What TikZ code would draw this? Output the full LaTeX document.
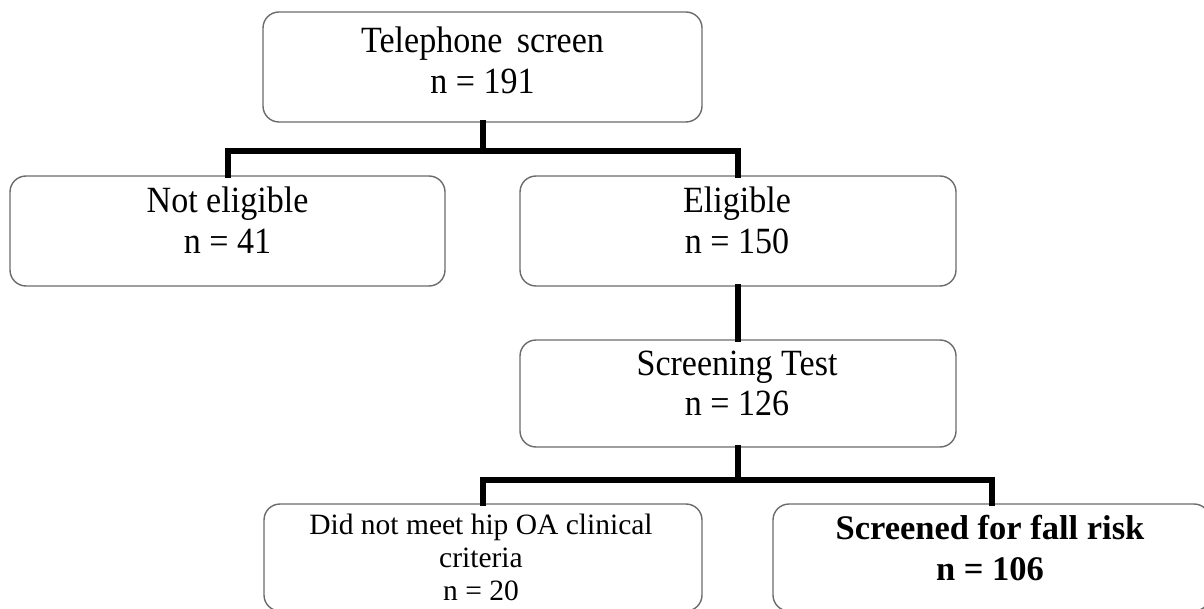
\documentclass[tikz,border=0pt]{standalone}
\usepackage{fontspec}
\setmainfont{Liberation Serif}
\newfontfamily\narrowserif[FakeStretch=0.92]{Liberation Serif}
\begin{document}
\begin{tikzpicture}[x=1pt,y=-1pt,
  box/.style={draw=black!58, line width=1.4pt, rounded corners=16pt, inner sep=0pt, fill=white},
  conn/.style={line width=6pt, line join=miter, line cap=rect},
  txt/.style={inner sep=0pt, anchor=base, font=\narrowserif\fontsize{37}{40}\selectfont},
  smalltxt/.style={inner sep=0pt, anchor=base, font=\fontsize{29.5}{32}\selectfont},
  boldtxt/.style={inner sep=0pt, anchor=base, font=\fontsize{34.5}{38}\selectfont\bfseries}]
\useasboundingbox (0,0) rectangle (1204,609);
\clip (0,0) rectangle (1204,609);
% boxes
\node[box, minimum width=439pt, minimum height=110pt] (top) at (482.5,67) {};
\node[box, minimum width=435pt, minimum height=110pt] (ne) at (227.5,231) {};
\node[box, minimum width=436pt, minimum height=110pt] (el) at (738,231) {};
\node[box, minimum width=436pt, minimum height=107pt] (sc) at (738,393.5) {};
\node[box, minimum width=438pt, minimum height=107pt] (dn) at (483,557.5) {};
\node[box, minimum width=437pt, minimum height=107pt] (sf) at (991.5,557.5) {};
% junctions
\coordinate (j1) at (482.5,151);
\coordinate (j2) at (738,480);
% connectors
\draw[conn] (top.south) -- (j1);
\draw[conn] (ne.north) |- (j1) -| (el.north);
\draw[conn] (el.south) -- (sc.north);
\draw[conn] (sc.south) -- (j2);
\draw[conn] (dn.north) |- (j2) -| (sf.north);
% texts
\node[txt] (t1a) at (482.5,53) {Telephone\hspace{6pt} screen};
\node[txt] (t1b) at (482.5,94) {n = 191};
\node[txt] (t2a) at (227.5,213) {Not eligible};
\node[txt] (t2b) at (227.5,254) {n = 41};
\node[txt] (t3a) at (737,213) {Eligible};
\node[txt] (t3b) at (737,254) {n = 150};
\node[txt] (t4a) at (737,375) {Screening Test};
\node[txt] (t4b) at (737,415) {n = 126};
\node[smalltxt] (t5a) at (481,534) {Did not meet hip OA clinical};
\node[smalltxt] (t5b) at (481,567) {criteria};
\node[smalltxt] (t5c) at (481,600) {n = 20};
\node[boldtxt] (t6a) at (990,539) {Screened for fall risk};
\node[boldtxt] (t6b) at (990,580) {n = 106};
\end{tikzpicture}
\end{document}
